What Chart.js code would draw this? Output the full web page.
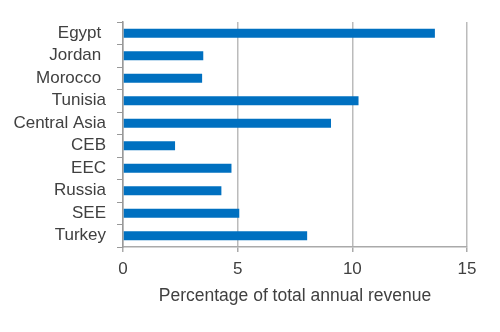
<!DOCTYPE html>
<html>
<head>
    <title>Revenue share by region</title>
    <script src="https://cdn.jsdelivr.net/npm/chart.js"></script>
    <style>
        body { margin: 0; background: #fff; }
        .chart-box { width: 500px; height: 332px; position: relative; }
    </style>
</head>
<body>
    <div class="chart-box">
        <canvas id="chart-revenue"></canvas>
    </div>

    <script>
        // Regions and share of total annual revenue (%)
        const regions = ["Egypt ", "Jordan ", "Morocco ", "Tunisia", "Central Asia", "CEB", "EEC", "Russia", "SEE", "Turkey"];
        const revenueShare = [13.6, 3.5, 3.45, 10.27, 9.07, 2.27, 4.73, 4.29, 5.07, 8.03];
        const xTicks = [0, 5, 10, 15];

        const textColor = "#404040";
        const fontFamily = "'Liberation Sans', Arial, sans-serif";

        const ctx = document.getElementById("chart-revenue").getContext("2d");

        new Chart(ctx, {
            type: "bar",
            data: {
                labels: regions,
                datasets: [{
                    label: "Percentage of total annual revenue",
                    data: revenueShare,
                    backgroundColor: "#0070c0",
                    borderWidth: 0,
                    barPercentage: 0.4,
                    categoryPercentage: 1
                }]
            },
            options: {
                indexAxis: "y",
                responsive: true,
                maintainAspectRatio: false,
                animation: false,
                layout: { padding: { top: 22, right: 33, left: 0, bottom: 0 } },
                scales: {
                    x: {
                        min: 0,
                        max: 15,
                        afterBuildTicks: scale => {
                            scale.ticks = xTicks.map(v => ({ value: v }));
                        },
                        afterFit: scale => { scale.height = 85; },
                        grid: {
                            color: "#bbbbbb",
                            lineWidth: 1.5,
                            tickLength: 5,
                            tickColor: "#aaaaaa"
                        },
                        border: { display: true, color: "#aaaaaa", width: 1.5 },
                        ticks: {
                            color: textColor,
                            padding: 7,
                            font: { family: fontFamily, size: 17 }
                        },
                        title: {
                            display: true,
                            text: "Percentage of total annual revenue",
                            color: textColor,
                            font: { family: fontFamily, size: 17.5 },
                            padding: { top: 0, bottom: 25 }
                        }
                    },
                    y: {
                        afterFit: scale => { scale.width = 123; },
                        grid: {
                            offset: true,
                            drawOnChartArea: false,
                            tickLength: 6,
                            color: "#999999",
                            lineWidth: 1
                        },
                        border: { display: true, color: "#999999", width: 1.5 },
                        ticks: {
                            autoSkip: false,
                            color: textColor,
                            padding: 11,
                            font: { family: fontFamily, size: 17 }
                        }
                    }
                },
                plugins: {
                    legend: { display: false },
                    tooltip: { enabled: false }
                }
            }
        });
    </script>
</body>
</html>
